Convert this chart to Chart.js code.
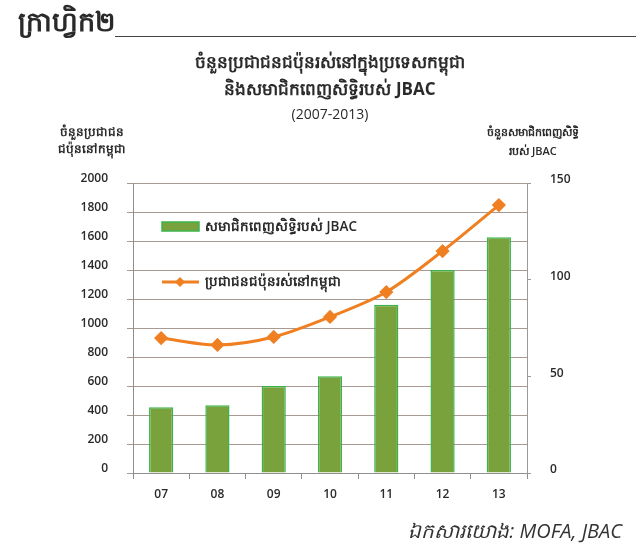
<!DOCTYPE html>
<html><head><meta charset="utf-8">
<script src="https://cdn.jsdelivr.net/npm/chart.js@4"></script>
<style>
html,body{margin:0;padding:0;background:#fff;}
#wrap{position:relative;width:636px;height:551px;overflow:hidden;font-family:"Open Sans","Noto Sans",sans-serif;color:#2a2a2a;background:#fff;}
#wrap canvas{position:absolute;left:0;top:0;}
.t{position:absolute;white-space:nowrap;line-height:1;}
.c{left:12px;width:636px;text-align:center;}
</style></head><body>
<div id="wrap">
<canvas id="c" width="636" height="551"></canvas>
<div class="t" style="left:18px;top:7px;font-size:27px;font-weight:600;">ក្រាហ្វិក២</div>
<div style="position:absolute;left:115px;top:36px;width:521px;height:1px;background:#444"></div>
<div class="t c" style="top:53px;font-size:17px;font-weight:700;">ចំនួនប្រជាជនជប៉ុនរស់នៅក្នុងប្រទេសកម្ពុជា</div>
<div class="t c" style="top:80px;font-size:17px;font-weight:700;">និងសមាជិកពេញសិទ្ធិរបស់ JBAC</div>
<div class="t c" style="top:107px;font-size:14px;">(2007-2013)</div>
<div class="t" style="left:42px;width:100px;text-align:center;top:126px;font-size:12px;font-weight:600;">ចំនួនប្រជាជន</div>
<div class="t" style="left:42px;width:100px;text-align:center;top:143px;font-size:12px;font-weight:600;">ជប៉ុននៅកម្ពុជា</div>
<div class="t" style="left:478px;width:110px;text-align:center;top:126px;font-size:11px;font-weight:600;">ចំនួនសមាជិកពេញសិទ្ធិ</div>
<div class="t" style="left:478px;width:110px;text-align:center;top:145px;font-size:11px;font-weight:600;">របស់ JBAC</div>
<div class="t" style="right:14px;top:521px;font-size:20px;font-style:italic;color:#333;">ឯកសារយោង: MOFA, JBAC</div>
</div>
<script>
const years = ['07','08','09','10','11','12','13'];
const jbacMembers = [34, 35, 45, 50, 87, 105, 122];
const japaneseResidents = [931, 883, 938, 1076, 1248, 1531, 1848];
const leftAxis = {min: 0, max: 2000, step: 200};
const rightAxis = {min: 0, max: 150, step: 50};
const barLabel = 'សមាជិកពេញសិទ្ធិរបស់ JBAC';
const lineLabel = 'ប្រជាជនជប៉ុនរស់នៅកម្ពុជា';

const tickFont = {family: '"Open Sans","Noto Sans",sans-serif', size: 12, weight: '600'};

const legendPlugin = {
  id: 'insideLegend',
  afterDatasetsDraw(chart) {
    const ctx = chart.ctx, a = chart.chartArea;
    const bar = chart.data.datasets[1], line = chart.data.datasets[0];
    ctx.save();
    const x0 = a.left + 29, w = 37;
    ctx.fillStyle = bar.backgroundColor;
    ctx.fillRect(x0, a.top + 39, w, 9);
    ctx.strokeStyle = bar.borderColor; ctx.lineWidth = 1.5;
    ctx.strokeRect(x0, a.top + 39, w, 9);
    const ly = a.top + 99;
    ctx.strokeStyle = line.borderColor; ctx.lineWidth = 3;
    ctx.beginPath(); ctx.moveTo(x0, ly); ctx.lineTo(x0 + w, ly); ctx.stroke();
    ctx.fillStyle = line.borderColor;
    ctx.beginPath(); const cx = x0 + 18, r = 5;
    ctx.moveTo(cx, ly - r); ctx.lineTo(cx + r, ly); ctx.lineTo(cx, ly + r); ctx.lineTo(cx - r, ly); ctx.closePath(); ctx.fill();
    ctx.fillStyle = '#2a2a2a';
    ctx.font = '600 13.5px "Open Sans","Noto Sans",sans-serif';
    ctx.textBaseline = 'middle'; ctx.textAlign = 'left';
    ctx.fillText(bar.label, x0 + 43, a.top + 44);
    ctx.fillText(line.label, x0 + 43, ly);
    ctx.restore();
  }
};

new Chart(document.getElementById('c'), {
  data: {
    labels: years,
    datasets: [
      {
        type: 'line', label: lineLabel, data: japaneseResidents, yAxisID: 'y',
        borderColor: '#f07f22', backgroundColor: '#f07f22', borderWidth: 3,
        pointStyle: 'rectRot', pointRadius: 5, pointHoverRadius: 5,
        tension: 0.3, order: 1
      },
      {
        type: 'bar', label: barLabel, data: jbacMembers, yAxisID: 'y1',
        backgroundColor: '#7aa23c', borderColor: '#3cb44b', borderWidth: 1.5,
        categoryPercentage: 1, barPercentage: 0.43, order: 2
      }
    ]
  },
  options: {
    responsive: false, animation: false,
    layout: {padding: {top: 183, left: 0, right: 0, bottom: 0}},
    plugins: {legend: {display: false}, tooltip: {enabled: false}, title: {display: false}},
    scales: {
      x: {
        grid: {offset: true, drawOnChartArea: false, drawTicks: true, tickLength: 6, color: '#8f8f8f'},
        border: {display: true, color: '#8f8f8f'},
        ticks: {font: tickFont, color: '#2a2a2a', padding: 8},
        afterFit: s => { s.height = 78; }
      },
      y: {
        position: 'left', min: leftAxis.min, max: leftAxis.max,
        ticks: {stepSize: leftAxis.step, font: tickFont, color: '#2a2a2a', padding: 19, labelOffset: -4,
                callback: v => String(v)},
        grid: {color: '#a89a92', tickLength: 6},
        border: {display: true, color: '#8f8f8f'},
        afterFit: s => { s.width = 133; }
      },
      y1: {
        position: 'right', min: rightAxis.min, max: rightAxis.max,
        ticks: {stepSize: rightAxis.step, font: tickFont, color: '#2a2a2a', padding: 19, labelOffset: -3,
                callback: v => String(v)},
        grid: {drawOnChartArea: false, tickLength: 4, color: '#999'},
        border: {display: true, color: '#999'},
        afterFit: s => { s.width = 109; }
      }
    }
  },
  plugins: [legendPlugin]
});
</script>
</body></html>
